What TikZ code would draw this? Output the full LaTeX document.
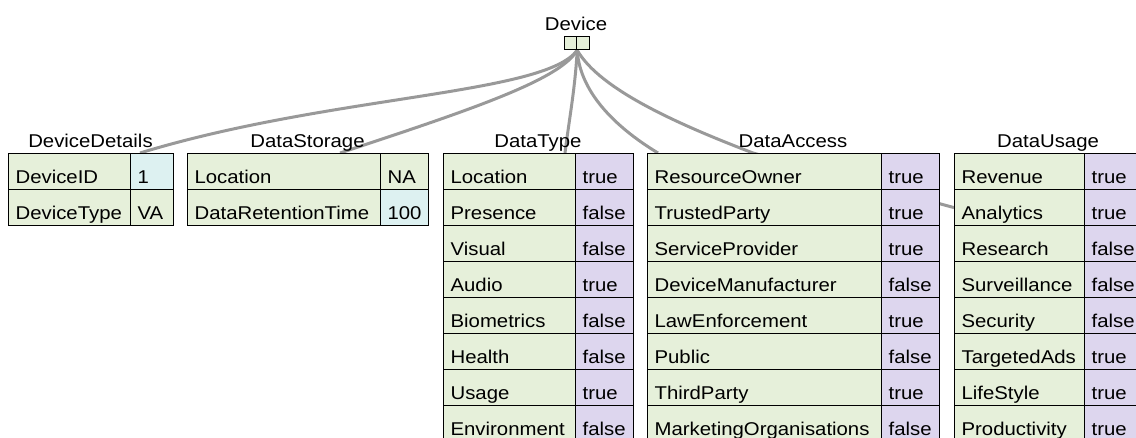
\documentclass[tikz,border=0pt]{standalone}
\usepackage{fontspec}
\setmainfont{Liberation Sans}[FakeStretch=1.1]
\pgfdeclarelayer{background}
\pgfsetlayers{background,main}
\definecolor{keyc}{HTML}{E6F0DA}
\definecolor{numc}{HTML}{DDF1F1}
\definecolor{boolc}{HTML}{DDD6EE}
\definecolor{edgec}{HTML}{999999}
\tikzset{
  cell/.style={draw=black, line width=1.2pt, rectangle, inner xsep=7pt, inner ysep=0pt,
    text height=30pt, text depth=6pt, align=left, anchor=north west,
    font=\fontsize{18.5}{20}\selectfont},
  devcell/.style={draw=black, line width=1.2pt, rectangle, fill=keyc, inner sep=0pt,
    minimum width=12.5pt, minimum height=13pt, anchor=north west},
  tabtitle/.style={anchor=base, inner sep=0pt, font=\fontsize{18.5}{20}\selectfont},
  link/.style={draw=edgec, line width=3pt},
}
\newcommand{\mktable}[5]{%
  \pgfmathsetmacro{\kw}{#3-#2-14}%
  \pgfmathsetmacro{\vw}{#4-#3-14}%
  \foreach \k/\v/\s [count=\i from 0] in {#5} {
    \node[cell, fill=keyc, text width=\kw pt] (#1-k\i) at (#2,{153+36*\i}) {\k};
    \node[cell, fill=\s, text width=\vw pt] (#1-v\i) at (#3,{153+36*\i}) {\v};
  }%
}
\begin{document}
\begin{tikzpicture}[x=1pt, y=-1pt]
\useasboundingbox (0,0) rectangle (1136,437);

% Device
\node[devcell] (devL) at (563.5,36) {};
\node[devcell] (devR) at (576,36) {};
\node[tabtitle] (devlabel) at (576,30.5) {Device};
\coordinate (devout) at (devL.south east);

% Tables
\node[tabtitle] (dd-title) at (90.5,147.5) {DeviceDetails};
\mktable{dd}{8}{130}{173}{DeviceID/1/numc, DeviceType/VA/keyc}

\node[tabtitle] (ds-title) at (307.5,147.5) {DataStorage};
\mktable{ds}{187}{380}{428}{Location/NA/keyc, DataRetentionTime/100/numc}

\node[tabtitle] (dt-title) at (538,147.5) {DataType};
\mktable{dt}{443}{575}{633}{Location/true/boolc, Presence/false/boolc, Visual/false/boolc,
  Audio/true/boolc, Biometrics/false/boolc, Health/false/boolc, Usage/true/boolc,
  Environment/false/boolc}

\node[tabtitle] (da-title) at (793,147.5) {DataAccess};
\mktable{da}{647}{881}{939}{ResourceOwner/true/boolc, TrustedParty/true/boolc,
  ServiceProvider/true/boolc, DeviceManufacturer/false/boolc, LawEnforcement/true/boolc,
  Public/false/boolc, ThirdParty/true/boolc, MarketingOrganisations/false/boolc}

\node[tabtitle] (du-title) at (1048,147.5) {DataUsage};
\mktable{du}{954}{1084}{1142}{Revenue/true/boolc, Analytics/true/boolc,
  Research/false/boolc, Surveillance/false/boolc, Security/false/boolc,
  TargetedAds/true/boolc, LifeStyle/true/boolc, Productivity/true/boolc}

% edge end points
\coordinate (ddin) at (140,153);
\coordinate (dsin) at (340,153);
\coordinate (dtin) at (565,153);
\coordinate (dain) at (658,153);
\coordinate (duin) at (du-k1.west);

\begin{pgfonlayer}{background}
  \draw[link] (devout) .. controls (545,95) and (330,95) .. (ddin);
  \draw[link] (devout) .. controls (560,80) and (470,110) .. (dsin);
  \draw[link] (devout) .. controls (575,90) and (569,120) .. (dtin);
  \draw[link] (devout) .. controls (580,95) and (620,130) .. (dain);
  \draw[link] (devout) .. controls (600,90) and (680,125) .. (753,153) -- (duin);
\end{pgfonlayer}
\end{tikzpicture}
\end{document}
